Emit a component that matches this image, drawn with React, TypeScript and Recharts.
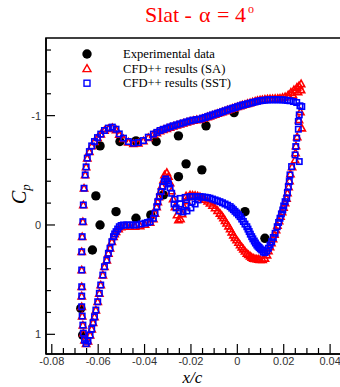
import React from "react";
import { ScatterChart, Scatter, XAxis, YAxis, ReferenceArea, Legend } from "recharts";

// axis ticks (minor + major), majors get a label
const xTicks = [
  -0.08, -0.075, -0.07, -0.065, -0.06, -0.055, -0.05, -0.045, -0.04, -0.035, -0.03, -0.025,
  -0.02, -0.015, -0.01, -0.005, 0, 0.005, 0.01, 0.015, 0.02, 0.025, 0.03, 0.035, 0.04,
];
const xMajor = [-0.08, -0.06, -0.04, -0.02, 0, 0.02, 0.04];
const cpTicks = [-1.6, -1.4, -1.2, -1, -0.8, -0.6, -0.4, -0.2, 0, 0.2, 0.4, 0.6, 0.8, 1];
const cpMajor = [-1, 0, 1];

const seriesNames = ["Experimental data", "CFD++ results (SA)", "CFD++ results (SST)"];

// [x/c, Cp]
const expPoints: [number, number][] = [
  [-0.0592, -0.723], [-0.0506, -0.763], [-0.0437, -0.769], [-0.035, -0.763], [-0.0254, -0.815],
  [-0.0135, -0.907], [-0.0014, -1.028], [-0.0221, -0.559], [-0.0254, -0.442], [-0.0153, -0.504],
  [-0.0319, -0.275], [-0.061, -0.266], [-0.0523, -0.122], [-0.0592, 0], [-0.0437, -0.061],
  [-0.0373, -0.092], [-0.0625, 0.229], [-0.0675, 0.763], [-0.0667, 1.007], [0.0033, -0.122],
  [0.0119, 0.122],
];

const saPoints: [number, number][] = [
  [-0.0652, 1.085], [-0.0659, 1.053], [-0.0664, 0.989], [-0.0666, 0.916], [-0.0669, 0.833],
  [-0.0671, 0.748], [-0.0671, 0.65], [-0.0671, 0.565], [-0.0671, 0.412], [-0.0671, 0.245],
  [-0.0669, 0.107], [-0.0666, -0.03], [-0.0664, -0.183], [-0.0661, -0.336], [-0.0656, -0.458],
  [-0.0652, -0.531], [-0.0647, -0.611], [-0.0638, -0.671], [-0.0628, -0.723], [-0.0616, -0.763],
  [-0.0603, -0.799], [-0.0589, -0.831], [-0.0573, -0.864], [-0.0556, -0.88], [-0.0539, -0.889],
  [-0.0523, -0.87], [-0.0509, -0.828], [-0.0491, -0.789], [-0.047, -0.758], [-0.0448, -0.743],
  [-0.0427, -0.749], [-0.0405, -0.768], [-0.0384, -0.799], [-0.0362, -0.827], [-0.0347, -0.843],
  [-0.0333, -0.86], [-0.0319, -0.871], [-0.0304, -0.882], [-0.029, -0.893], [-0.0276, -0.903],
  [-0.0261, -0.913], [-0.0247, -0.922], [-0.0233, -0.931], [-0.0218, -0.94], [-0.0204, -0.949],
  [-0.019, -0.956], [-0.0175, -0.962], [-0.0161, -0.966], [-0.015, -0.974], [-0.0139, -0.981],
  [-0.0128, -0.989], [-0.0118, -0.996], [-0.0107, -1.004], [-0.0096, -1.012], [-0.0085, -1.02],
  [-0.0075, -1.027], [-0.0064, -1.035], [-0.0053, -1.043], [-0.0042, -1.051], [-0.0031, -1.059],
  [-0.002, -1.067], [-0.001, -1.074], [0.0001, -1.082], [0.0012, -1.09], [0.0022, -1.097],
  [0.0033, -1.103], [0.0044, -1.11], [0.0055, -1.117], [0.0066, -1.125], [0.0077, -1.132],
  [0.0087, -1.138], [0.0098, -1.143], [0.0108, -1.146], [0.0119, -1.149], [0.013, -1.152],
  [0.0141, -1.154], [0.0152, -1.155], [0.0163, -1.156], [0.0174, -1.158], [0.0184, -1.16],
  [0.0195, -1.166], [0.0206, -1.172], [0.0219, -1.19], [0.0231, -1.213], [0.024, -1.19],
  [0.0244, -1.236], [0.0257, -1.259], [0.0262, -1.218], [0.0266, -1.273], [0.0275, -1.291],
  [0.0275, -1.236],
  // trailing edge
  [0.0272, -1.035], [0.0266, -0.962], [0.0278, -0.886], [0.0258, -0.806], [0.0253, -0.723],
  [0.0251, -0.659], [0.0249, -0.595], [0.0236, -0.531], [0.0229, -0.467], [0.0225, -0.403],
  [0.0221, -0.348], [0.0216, -0.293], [0.0212, -0.243], [0.0206, -0.201], [0.0199, -0.16],
  [0.0193, -0.119], [0.0186, -0.078], [0.018, -0.037], [0.0173, 0.005], [0.0167, 0.046],
  [0.016, 0.087], [0.0154, 0.128], [0.0147, 0.165], [0.0141, 0.201], [0.0134, 0.238],
  [0.0128, 0.275], [0.0119, 0.305],
  // cove surface
  [0.0109, 0.316], [0.0098, 0.316], [0.0091, 0.314], [0.0084, 0.311], [0.0076, 0.309],
  [0.0069, 0.305], [0.0062, 0.296], [0.0055, 0.284], [0.0048, 0.272], [0.0041, 0.259],
  [0.0033, 0.24], [0.0026, 0.22], [0.0019, 0.202], [0.0012, 0.183], [0.0005, 0.16],
  [-0.0003, 0.137], [-0.001, 0.115], [-0.0017, 0.092], [-0.0024, 0.065], [-0.0031, 0.037],
  [-0.0038, 0.01], [-0.0046, -0.016], [-0.0053, -0.04], [-0.006, -0.064], [-0.0067, -0.086],
  [-0.0075, -0.107], [-0.0085, -0.132], [-0.0096, -0.156], [-0.0107, -0.178], [-0.0118, -0.199],
  [-0.0128, -0.217], [-0.0139, -0.234], [-0.015, -0.247], [-0.0161, -0.259], [-0.0171, -0.265],
  [-0.0182, -0.27], [-0.0193, -0.273], [-0.0204, -0.275], [-0.0221, -0.266], [-0.0212, -0.256],
  [-0.0219, -0.22], [-0.023, -0.165], [-0.0238, -0.101], [-0.0245, -0.055], [-0.0254, -0.046],
  [-0.026, -0.092], [-0.0269, -0.165], [-0.0277, -0.238], [-0.0284, -0.311], [-0.029, -0.385],
  [-0.0297, -0.444], [-0.0304, -0.479], [-0.0314, -0.458],
  // lower surface
  [-0.0318, -0.412], [-0.0325, -0.357], [-0.0331, -0.307], [-0.0338, -0.256], [-0.0343, -0.211],
  [-0.0348, -0.165], [-0.0355, -0.105], [-0.0362, -0.055], [-0.0376, -0.023], [-0.0398, -0.005],
  [-0.0419, 0.009], [-0.0441, 0.014], [-0.0463, 0.014], [-0.0484, 0.014], [-0.0501, 0.018],
  [-0.0512, 0.037], [-0.0523, 0.061], [-0.0529, 0.082], [-0.0534, 0.107], [-0.0541, 0.153],
  [-0.0549, 0.213], [-0.0556, 0.259], [-0.0563, 0.321], [-0.0573, 0.382], [-0.058, 0.458],
  [-0.0589, 0.549], [-0.0595, 0.625], [-0.0602, 0.702], [-0.061, 0.778], [-0.0616, 0.84],
  [-0.0622, 0.893], [-0.0628, 0.952], [-0.0635, 1.007], [-0.0644, 1.062],
];

const sstPoints: [number, number][] = [
  [-0.0652, 1.085], [-0.0659, 1.053], [-0.0664, 0.989], [-0.0666, 0.916], [-0.0669, 0.833],
  [-0.0671, 0.748], [-0.0671, 0.65], [-0.0671, 0.565], [-0.0671, 0.412], [-0.0671, 0.245],
  [-0.0669, 0.107], [-0.0666, -0.03], [-0.0664, -0.183], [-0.0661, -0.336], [-0.0656, -0.458],
  [-0.0652, -0.531], [-0.0647, -0.611], [-0.0638, -0.671], [-0.0628, -0.723], [-0.0616, -0.763],
  [-0.0603, -0.799], [-0.0589, -0.831], [-0.0573, -0.864], [-0.0556, -0.886], [-0.0539, -0.895],
  [-0.0523, -0.876], [-0.0509, -0.833], [-0.0491, -0.794], [-0.047, -0.763], [-0.0448, -0.748],
  [-0.0427, -0.754], [-0.0405, -0.772], [-0.0384, -0.803], [-0.0362, -0.831], [-0.0347, -0.847],
  [-0.0333, -0.864], [-0.0319, -0.875], [-0.0304, -0.886], [-0.029, -0.897], [-0.0276, -0.907],
  [-0.0261, -0.916], [-0.0247, -0.925], [-0.0233, -0.934], [-0.0218, -0.943], [-0.0204, -0.952],
  [-0.019, -0.959], [-0.0175, -0.964], [-0.0161, -0.968], [-0.015, -0.976], [-0.0139, -0.983],
  [-0.0128, -0.991], [-0.0118, -0.998], [-0.0107, -1.006], [-0.0096, -1.014], [-0.0085, -1.021],
  [-0.0075, -1.028], [-0.0064, -1.036], [-0.0053, -1.044], [-0.0042, -1.052], [-0.0031, -1.06],
  [-0.002, -1.067], [-0.001, -1.074], [0.0001, -1.082], [0.0012, -1.09], [0.0022, -1.096],
  [0.0033, -1.102], [0.0044, -1.108], [0.0055, -1.114], [0.0066, -1.12], [0.0077, -1.126],
  [0.0087, -1.131], [0.0098, -1.136], [0.0108, -1.139], [0.0119, -1.142], [0.013, -1.144],
  [0.0141, -1.145], [0.0152, -1.145], [0.0163, -1.145], [0.0174, -1.145], [0.0184, -1.145],
  [0.0195, -1.144], [0.0206, -1.142], [0.0216, -1.139], [0.0227, -1.136], [0.0242, -1.129],
  [0.0256, -1.12], [0.027, -1.09],
  // trailing edge
  [0.0278, -1.083], [0.0267, -1.007], [0.0263, -0.946], [0.0263, -0.876], [0.0256, -0.794],
  [0.0252, -0.717], [0.0249, -0.641], [0.0267, -0.58], [0.0234, -0.534], [0.0227, -0.458],
  [0.0224, -0.397], [0.022, -0.351], [0.0216, -0.296], [0.0213, -0.245], [0.0206, -0.213],
  [0.02, -0.174], [0.0196, -0.137], [0.019, -0.101], [0.0184, -0.061], [0.0178, -0.023],
  [0.0172, 0.016], [0.0163, 0.076], [0.0155, 0.114], [0.0148, 0.153], [0.0141, 0.183],
  [0.0134, 0.213], [0.0127, 0.238], [0.0119, 0.254],
  // cove surface
  [0.0112, 0.247], [0.0105, 0.229], [0.0099, 0.218], [0.0094, 0.206], [0.0089, 0.195],
  [0.0084, 0.183], [0.0078, 0.165], [0.0073, 0.147], [0.0067, 0.127], [0.0062, 0.107],
  [0.0056, 0.084], [0.0051, 0.06], [0.0046, 0.038], [0.0041, 0.016], [0.0033, -0.008],
  [0.0026, -0.032], [0.0019, -0.054], [0.0012, -0.076], [0.0005, -0.093], [-0.0003, -0.11],
  [-0.001, -0.125], [-0.0017, -0.14], [-0.0024, -0.154], [-0.0031, -0.168], [-0.0042, -0.181],
  [-0.0053, -0.192], [-0.0064, -0.203], [-0.0075, -0.213], [-0.0086, -0.221], [-0.0096, -0.229],
  [-0.0107, -0.237], [-0.0118, -0.245], [-0.0128, -0.25], [-0.0139, -0.254], [-0.015, -0.257],
  [-0.0161, -0.259], [-0.0171, -0.26], [-0.0182, -0.261], [-0.0193, -0.26], [-0.0204, -0.259],
  [-0.0225, -0.252], [-0.0247, -0.243], [-0.0269, -0.234], [-0.0169, -0.229], [-0.0182, -0.192],
  [-0.0195, -0.211], [-0.02, -0.156], [-0.0217, -0.128], [-0.0221, -0.183], [-0.0234, -0.119],
  [-0.0247, -0.192], [-0.0251, -0.128], [-0.0264, -0.156], [-0.0273, -0.192], [-0.0283, -0.29],
  [-0.029, -0.339], [-0.0297, -0.375], [-0.0302, -0.403], [-0.0309, -0.421],
  // lower surface
  [-0.0315, -0.397], [-0.0322, -0.351], [-0.0329, -0.305], [-0.0336, -0.259], [-0.0343, -0.213],
  [-0.0347, -0.168], [-0.0355, -0.107], [-0.0362, -0.061], [-0.0376, -0.03], [-0.0387, -0.023],
  [-0.0398, -0.016], [-0.0415, -0.009], [-0.0434, 0], [-0.0448, 0], [-0.0463, 0],
  [-0.0477, 0], [-0.0491, 0], [-0.0501, 0.005], [-0.0509, 0.016], [-0.0516, 0.037],
  [-0.0523, 0.061], [-0.0529, 0.082], [-0.0534, 0.107], [-0.0541, 0.153], [-0.0549, 0.213],
  [-0.0556, 0.259], [-0.0563, 0.321], [-0.0573, 0.382], [-0.058, 0.458], [-0.0589, 0.549],
  [-0.0595, 0.625], [-0.0602, 0.702], [-0.061, 0.778], [-0.0616, 0.84], [-0.0622, 0.893],
  [-0.0628, 0.952], [-0.0635, 1.007], [-0.0644, 1.062],
];

const toRows = (pts: [number, number][]) => pts.map(([x, cp]) => ({ x, cp }));

const SERIF = "'Liberation Serif', 'Times New Roman', serif";
const SANS = "'Liberation Sans', Arial, sans-serif";

// markers
const Dot = (p: any) => <circle cx={p.cx} cy={p.cy} r={4.7} fill="#000" />;
const Tri = (p: any) => (
  <path
    d={`M${p.cx},${p.cy - 3.6} L${p.cx + 3.6},${p.cy + 2.8} L${p.cx - 3.6},${p.cy + 2.8} Z`}
    fill="none"
    stroke="#ff0000"
    strokeWidth={1.6}
  />
);
const Sq = (p: any) => (
  <rect x={p.cx - 2.7} y={p.cy - 2.7} width={5.4} height={5.4} fill="none" stroke="#0000ff" strokeWidth={1.6} />
);

// inward ticks, tecplot style
const XTick = (props: any) => {
  const { x, y, payload } = props;
  const major = xMajor.includes(payload.value);
  return (
    <g>
      <line x1={x} y1={y} x2={x} y2={y - (major ? 10 : 6)} stroke="#000" strokeWidth={1.2} />
      {major && (
        <text x={x} y={y + 11} textAnchor="middle" fontSize={11} fontFamily={SANS} fill="#333">
          {payload.value}
        </text>
      )}
    </g>
  );
};

const YTick = (props: any) => {
  const { x, y, payload } = props;
  const major = cpMajor.includes(payload.value);
  return (
    <g>
      <line x1={x} y1={y} x2={x + (major ? 9 : 5)} y2={y} stroke="#000" strokeWidth={1.2} />
      {major && (
        <text x={x - 5} y={y + 4} textAnchor="end" fontSize={11} fontFamily={SANS} fill="#333">
          {payload.value}
        </text>
      )}
    </g>
  );
};

const legendMarker = (i: number) => {
  if (i === 0) return <circle cx={9} cy={0} r={4.7} fill="#000" />;
  if (i === 1)
    return <path d="M9,-4 L13,3 L5,3 Z" fill="none" stroke="#ff0000" strokeWidth={1.4} />;
  return <rect x={6} y={-3} width={6} height={6} fill="none" stroke="#0000ff" strokeWidth={1.4} />;
};

// rows kept in series order: experiment, SA, SST
const LegendBox = () => (
  <svg width={180} height={46}>
    {seriesNames.map((name, i) => (
      <g key={name} transform={`translate(0, ${8 + i * 14.6})`}>
        {legendMarker(i)}
        <text x={45} y={4} fontSize={12.6} fontFamily={SERIF} fill="#000">
          {name}
        </text>
      </g>
    ))}
  </svg>
);

export default function App() {
  return (
    <div style={{ position: "relative", width: 340, height: 387, overflow: "hidden", background: "#fff" }}>
      <style>{"body{margin:0}"}</style>
      <ScatterChart width={342} height={387} margin={{ top: 38, right: 1, bottom: 0, left: 0 }}>
        <XAxis
          type="number"
          dataKey="x"
          domain={[-0.0825, 0.0447]}
          allowDataOverflow
          ticks={xTicks}
          interval={0}
          tick={<XTick />}
          tickSize={0}
          tickMargin={0}
          tickLine={false}
          axisLine={{ stroke: "#000", strokeWidth: 1.5 }}
          height={33}
        />
        <YAxis
          type="number"
          dataKey="cp"
          domain={[-1.71, 1.18]}
          allowDataOverflow
          reversed
          ticks={cpTicks}
          interval={0}
          tick={<YTick />}
          tickSize={0}
          tickMargin={0}
          tickLine={false}
          axisLine={{ stroke: "#000", strokeWidth: 1.5 }}
          width={46}
        />
        <ReferenceArea
          x1={-0.0825}
          x2={0.0447}
          y1={-1.71}
          y2={1.18}
          fill="none"
          fillOpacity={0}
          stroke="#000"
          strokeWidth={1.6}
        />
        <Legend
          layout="vertical"
          align="center"
          verticalAlign="middle"
          wrapperStyle={{ left: 78, top: 46, width: 180, height: 46 }}
          content={<LegendBox />}
        />
        <Scatter name={seriesNames[0]} data={toRows(expPoints)} fill="#000" shape={Dot} isAnimationActive={false} />
        <Scatter name={seriesNames[1]} data={toRows(saPoints)} fill="#ff0000" shape={Tri} isAnimationActive={false} />
        <Scatter name={seriesNames[2]} data={toRows(sstPoints)} fill="#0000ff" shape={Sq} isAnimationActive={false} />
      </ScatterChart>
      <svg
        width={340}
        height={387}
        style={{ position: "absolute", left: 0, top: 0, pointerEvents: "none" }}
      >
        <text y={21.5} fontSize={22} fontFamily={SERIF} fill="#ff0000">
          <tspan x={145}>Slat</tspan>
          <tspan x={184.5}>-</tspan>
          <tspan x={199}>α</tspan>
          <tspan x={217}>=</tspan>
          <tspan x={235}>4</tspan>
          <tspan x={248} dy={-9} fontSize={12}>o</tspan>
        </text>
        <text x={192.5} y={383} textAnchor="middle" fontSize={17} fontStyle="italic" fontFamily={SERIF}>
          x/c
        </text>
        <text transform="translate(26,204) rotate(-90)" fontSize={20} fontStyle="italic" fontFamily={SERIF}>
          C<tspan dy={4} fontSize={13}>p</tspan>
        </text>
      </svg>
    </div>
  );
}
